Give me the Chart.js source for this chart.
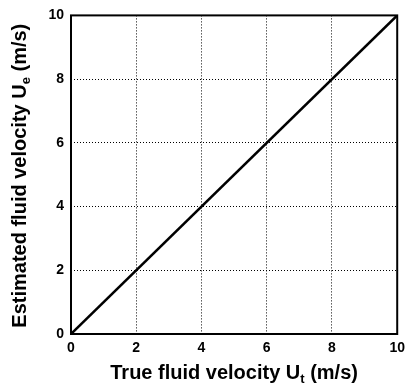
<!DOCTYPE html>
<html>
<head>
<meta charset="utf-8">
<script src="https://cdn.jsdelivr.net/npm/chart.js@4"></script>
<style>
  html, body { margin: 0; padding: 0; background: #fff; }
  #wrap { width: 411px; height: 384px; }
</style>
</head>
<body>
<div id="wrap"><canvas id="myChart" width="411" height="384"></canvas></div>
<script>
const trueVelocity = [0, 10];
const estimatedVelocity = [0, 10];
const tickValues = [0, 2, 4, 6, 8, 10];

const FONT = '"Liberation Sans", Arial, sans-serif';

// draws the solid frame and the axis titles (with subscripts)
const framePlugin = {
  id: 'frame',
  afterDraw(chart) {
    const { ctx, chartArea: a } = chart;
    ctx.save();
    ctx.strokeStyle = '#000';
    ctx.lineWidth = 2;
    ctx.strokeRect(a.left, a.top, a.right - a.left, a.bottom - a.top);

    const big = 'bold 20px ' + FONT;
    const small = 'bold 13px ' + FONT;
    const drawTitle = (main, sub, tail) => {
      ctx.font = big;
      const w1 = ctx.measureText(main).width;
      ctx.font = small;
      const w2 = ctx.measureText(sub).width;
      ctx.font = big;
      const w3 = ctx.measureText(tail).width;
      let x = -(w1 + w2 + w3) / 2;
      ctx.textBaseline = 'alphabetic';
      ctx.textAlign = 'left';
      ctx.fillText(main, x, 0);
      x += w1;
      ctx.font = small;
      ctx.fillText(sub, x, 4);
      x += w2;
      ctx.font = big;
      ctx.fillText(tail, x, 0);
    };

    ctx.fillStyle = '#000';
    ctx.save();
    ctx.translate((a.left + a.right) / 2, 379);
    drawTitle('True fluid velocity U', 't', ' (m/s)');
    ctx.restore();

    ctx.save();
    ctx.translate(26, (a.top + a.bottom) / 2 + 1);
    ctx.rotate(-Math.PI / 2);
    drawTitle('Estimated fluid velocity U', 'e', ' (m/s)');
    ctx.restore();
    ctx.restore();
  }
};

const ctx = document.getElementById('myChart').getContext('2d');
new Chart(ctx, {
  type: 'scatter',
  data: {
    datasets: [{
      data: trueVelocity.map((x, i) => ({ x: x, y: estimatedVelocity[i] })),
      showLine: true,
      borderColor: '#000',
      borderWidth: 2.5,
      pointRadius: 0,
      fill: false
    }]
  },
  options: {
    responsive: false,
    animation: false,
    layout: { padding: { top: 15, right: 13, left: 0, bottom: 0 } },
    plugins: { legend: { display: false }, tooltip: { enabled: false } },
    scales: {
      x: {
        type: 'linear',
        min: 0,
        max: 10,
        afterBuildTicks: s => { s.ticks = tickValues.map(v => ({ value: v })); },
        afterFit: s => { s.height = 50; },
        grid: { color: '#000', lineWidth: 1, drawTicks: false },
        border: { display: false, dash: [1, 2] },
        ticks: { color: '#000', padding: 6, font: { family: FONT, size: 14, weight: 'bold' } }
      },
      y: {
        type: 'linear',
        min: 0,
        max: 10,
        afterBuildTicks: s => { s.ticks = tickValues.map(v => ({ value: v })); },
        afterFit: s => { s.width = 71; },
        grid: { color: '#000', lineWidth: 1, drawTicks: false },
        border: { display: false, dash: [1, 2] },
        ticks: { color: '#000', padding: 7, font: { family: FONT, size: 14, weight: 'bold' } }
      }
    }
  },
  plugins: [framePlugin]
});
</script>
</body>
</html>
